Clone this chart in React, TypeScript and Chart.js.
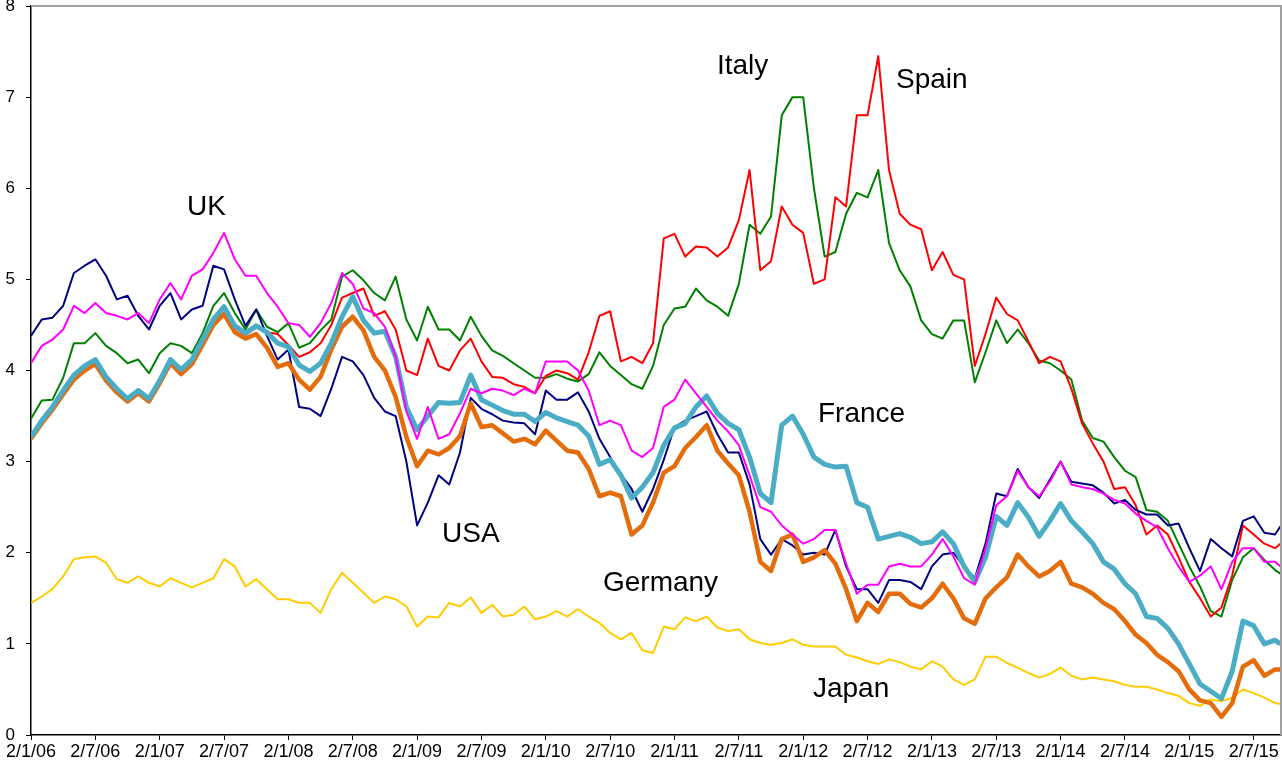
import React, { useEffect, useRef } from "react";
import { Chart, registerables } from "chart.js";

Chart.register(...registerables);

// Sample dates: months since 2 Jan 2006 (monthly samples)
const months = [
  0, 1, 2, 3, 4, 5, 6, 7, 8, 9, 10, 11, 12, 13, 14, 15, 16, 17, 18, 19,
  20, 21, 22, 23, 24, 25, 26, 27, 28, 29, 30, 31, 32, 33, 34, 35, 36, 37, 38, 39,
  40, 41, 42, 43, 44, 45, 46, 47, 48, 49, 50, 51, 52, 53, 54, 55, 56, 57, 58, 59,
  60, 61, 62, 63, 64, 65, 66, 67, 68, 69, 70, 71, 72, 73, 74, 75, 76, 77, 78, 79,
  80, 81, 82, 83, 84, 85, 86, 87, 88, 89, 90, 91, 92, 93, 94, 95, 96, 97, 98, 99,
  100, 101, 102, 103, 104, 105, 106, 107, 108, 109, 110, 111, 112, 113, 114, 115, 116, 116.5,
];

const tickMonths = [0, 6, 12, 18, 24, 30, 36, 42, 48, 54, 60, 66, 72, 78, 84, 90, 96, 102, 108, 114];
const tickLabels = [
  "2/1/06", "2/7/06", "2/1/07", "2/7/07", "2/1/08", "2/7/08", "2/1/09", "2/7/09", "2/1/10", "2/7/10",
  "2/1/11", "2/7/11", "2/1/12", "2/7/12", "2/1/13", "2/7/13", "2/1/14", "2/7/14", "2/1/15", "2/7/15",
];

const usa = [
  4.38, 4.56, 4.58, 4.71, 5.07, 5.15, 5.22, 5.04, 4.78, 4.82,
  4.60, 4.45, 4.71, 4.85, 4.56, 4.67, 4.71, 5.15, 5.11, 4.78,
  4.49, 4.67, 4.38, 4.12, 4.23, 3.60, 3.58, 3.50, 3.80, 4.15,
  4.10, 3.95, 3.70, 3.55, 3.50, 3.00, 2.30, 2.55, 2.85, 2.75,
  3.10, 3.70, 3.58, 3.52, 3.45, 3.43, 3.42, 3.30, 3.78, 3.68,
  3.68, 3.76, 3.55, 3.25, 3.05, 2.86, 2.70, 2.45, 2.70, 3.02,
  3.38, 3.45, 3.50, 3.55, 3.30, 3.10, 3.10, 2.75, 2.15, 1.98,
  2.15, 2.08, 1.98, 2.00, 1.98, 2.25, 1.85, 1.60, 1.60, 1.45,
  1.70, 1.70, 1.68, 1.60, 1.85, 1.98, 2.00, 1.85, 1.72, 2.10,
  2.65, 2.62, 2.92, 2.72, 2.60, 2.80, 3.00, 2.78, 2.76, 2.74,
  2.66, 2.54, 2.58, 2.47, 2.42, 2.42, 2.30, 2.32, 2.05, 1.80,
  2.15, 2.05, 1.96, 2.35, 2.40, 2.22, 2.20, 2.29,
];

const uk = [
  4.08, 4.27, 4.34, 4.45, 4.71, 4.63, 4.74, 4.63, 4.60, 4.56,
  4.63, 4.52, 4.78, 4.96, 4.78, 5.04, 5.11, 5.29, 5.51, 5.22,
  5.04, 5.04, 4.85, 4.70, 4.52, 4.50, 4.37, 4.52, 4.74, 5.07,
  4.95, 4.68, 4.63, 4.48, 4.15, 3.55, 3.25, 3.60, 3.25, 3.30,
  3.53, 3.80, 3.75, 3.80, 3.78, 3.73, 3.80, 3.75, 4.10, 4.10,
  4.10, 4.00, 3.78, 3.40, 3.45, 3.40, 3.12, 3.05, 3.15, 3.60,
  3.68, 3.90, 3.75, 3.60, 3.45, 3.33, 3.18, 2.85, 2.50, 2.45,
  2.30, 2.20, 2.10, 2.15, 2.25, 2.25, 1.88, 1.55, 1.65, 1.65,
  1.85, 1.88, 1.85, 1.85, 1.98, 2.15, 1.96, 1.72, 1.65, 2.05,
  2.52, 2.62, 2.90, 2.72, 2.62, 2.78, 3.00, 2.75, 2.72, 2.70,
  2.65, 2.58, 2.54, 2.43, 2.35, 2.28, 2.05, 1.85, 1.68, 1.75,
  1.85, 1.60, 1.90, 2.05, 2.05, 1.90, 1.90, 1.85,
];

const italy = [
  3.47, 3.67, 3.68, 3.92, 4.30, 4.30, 4.41, 4.27, 4.19, 4.08,
  4.12, 3.97, 4.19, 4.30, 4.27, 4.19, 4.41, 4.71, 4.85, 4.63,
  4.45, 4.67, 4.48, 4.42, 4.52, 4.25, 4.30, 4.44, 4.56, 5.03,
  5.10, 4.99, 4.85, 4.77, 5.03, 4.56, 4.33, 4.70, 4.45, 4.45,
  4.33, 4.59, 4.38, 4.22, 4.16, 4.08, 4.00, 3.92, 3.92, 3.96,
  3.91, 3.88, 3.96, 4.20, 4.05, 3.95, 3.85, 3.80, 4.05, 4.50,
  4.68, 4.70, 4.90, 4.77, 4.70, 4.60, 4.95, 5.60, 5.50, 5.69,
  6.80, 7.00, 7.00, 6.00, 5.25, 5.30, 5.72, 5.95, 5.90, 6.20,
  5.40, 5.10, 4.92, 4.55, 4.40, 4.35, 4.55, 4.55, 3.87, 4.20,
  4.55, 4.30, 4.45, 4.30, 4.11, 4.08, 4.00, 3.90, 3.45, 3.26,
  3.22, 3.05, 2.90, 2.83, 2.47, 2.45, 2.35, 2.10, 1.85, 1.63,
  1.36, 1.30, 1.70, 1.95, 2.05, 1.92, 1.81, 1.77,
];

const spain = [
  3.26, 3.43, 3.58, 3.76, 3.93, 4.03, 4.10, 3.91, 3.78, 3.68,
  3.76, 3.68, 3.87, 4.10, 3.99, 4.10, 4.32, 4.54, 4.68, 4.47,
  4.39, 4.47, 4.42, 4.40, 4.28, 4.15, 4.20, 4.30, 4.50, 4.80,
  4.85, 4.90, 4.60, 4.65, 4.45, 4.00, 3.95, 4.35, 4.05, 4.00,
  4.22, 4.35, 4.10, 3.93, 3.92, 3.85, 3.82, 3.75, 3.94, 4.00,
  3.97, 3.90, 4.20, 4.60, 4.65, 4.10, 4.15, 4.08, 4.30, 5.45,
  5.50, 5.25, 5.36, 5.35, 5.25, 5.35, 5.65, 6.20, 5.10, 5.20,
  5.80, 5.60, 5.51, 4.95, 5.00, 5.90, 5.80, 6.80, 6.80, 7.45,
  6.20, 5.72, 5.60, 5.55, 5.10, 5.30, 5.05, 5.00, 4.05, 4.40,
  4.80, 4.62, 4.55, 4.32, 4.08, 4.15, 4.10, 3.80, 3.42, 3.20,
  3.00, 2.70, 2.72, 2.52, 2.20, 2.30, 2.20, 1.95, 1.68, 1.50,
  1.30, 1.40, 1.75, 2.30, 2.20, 2.10, 2.05, 2.10,
];

const france = [
  3.27, 3.45, 3.60, 3.78, 3.95, 4.05, 4.12, 3.93, 3.80, 3.69,
  3.78, 3.69, 3.89, 4.12, 4.01, 4.12, 4.34, 4.56, 4.70, 4.49,
  4.41, 4.49, 4.42, 4.30, 4.26, 4.06, 3.99, 4.08, 4.30, 4.59,
  4.81, 4.55, 4.41, 4.43, 4.15, 3.60, 3.35, 3.50, 3.65, 3.64,
  3.65, 3.95, 3.68, 3.62, 3.56, 3.52, 3.52, 3.44, 3.54, 3.48,
  3.44, 3.40, 3.28, 2.97, 3.02, 2.85, 2.60, 2.72, 2.88, 3.18,
  3.37, 3.42, 3.60, 3.72, 3.53, 3.42, 3.35, 3.05, 2.65, 2.55,
  3.40, 3.50, 3.30, 3.05, 2.97, 2.94, 2.95, 2.55, 2.50, 2.15,
  2.18, 2.21, 2.17, 2.10, 2.12, 2.23, 2.10, 1.85, 1.68, 1.95,
  2.40, 2.30, 2.55, 2.39, 2.18, 2.35, 2.54, 2.35, 2.23, 2.10,
  1.90, 1.82, 1.66, 1.55, 1.30, 1.28, 1.17, 1.00, 0.78, 0.56,
  0.48, 0.40, 0.70, 1.25, 1.20, 1.00, 1.04, 1.00,
];

const germany = [
  3.25, 3.42, 3.57, 3.74, 3.90, 4.00, 4.07, 3.89, 3.76, 3.66,
  3.75, 3.66, 3.86, 4.08, 3.96, 4.07, 4.28, 4.50, 4.62, 4.42,
  4.35, 4.40, 4.25, 4.04, 4.08, 3.90, 3.79, 3.93, 4.23, 4.48,
  4.59, 4.44, 4.15, 4.00, 3.71, 3.27, 2.95, 3.12, 3.08, 3.15,
  3.28, 3.64, 3.38, 3.40, 3.31, 3.22, 3.25, 3.19, 3.34, 3.23,
  3.12, 3.10, 2.92, 2.62, 2.66, 2.62, 2.20, 2.30, 2.55, 2.88,
  2.95, 3.15, 3.27, 3.40, 3.12, 2.98, 2.85, 2.45, 1.90, 1.80,
  2.15, 2.20, 1.90, 1.95, 2.03, 1.88, 1.60, 1.25, 1.45, 1.35,
  1.55, 1.55, 1.44, 1.40, 1.50, 1.66, 1.50, 1.28, 1.22, 1.50,
  1.62, 1.73, 1.98, 1.85, 1.74, 1.80, 1.90, 1.66, 1.62, 1.55,
  1.45, 1.38, 1.25, 1.10, 1.01, 0.88, 0.80, 0.70, 0.50, 0.38,
  0.35, 0.20, 0.35, 0.75, 0.82, 0.65, 0.72, 0.72,
];

const japan = [
  1.45, 1.52, 1.60, 1.74, 1.93, 1.95, 1.96, 1.89, 1.71, 1.67,
  1.74, 1.67, 1.63, 1.72, 1.67, 1.62, 1.67, 1.72, 1.93, 1.85,
  1.63, 1.71, 1.60, 1.49, 1.49, 1.45, 1.45, 1.34, 1.60, 1.78,
  1.67, 1.56, 1.45, 1.52, 1.49, 1.41, 1.19, 1.30, 1.29, 1.45,
  1.41, 1.51, 1.34, 1.43, 1.30, 1.32, 1.41, 1.27, 1.30, 1.36,
  1.30, 1.38, 1.30, 1.23, 1.12, 1.05, 1.12, 0.93, 0.90, 1.19,
  1.16, 1.29, 1.25, 1.30, 1.18, 1.14, 1.16, 1.05, 1.01, 0.99,
  1.01, 1.05, 0.99, 0.97, 0.97, 0.97, 0.88, 0.85, 0.81, 0.78,
  0.83, 0.80, 0.75, 0.72, 0.81, 0.75, 0.61, 0.55, 0.61, 0.86,
  0.86, 0.79, 0.74, 0.68, 0.63, 0.67, 0.74, 0.65, 0.61, 0.63,
  0.61, 0.59, 0.55, 0.53, 0.53, 0.50, 0.46, 0.43, 0.35, 0.32,
  0.39, 0.37, 0.41, 0.50, 0.46, 0.41, 0.35, 0.34,
];

// Text annotations: name, anchor month, anchor value (left/baseline)
const labelNames = ["UK", "Italy", "Spain", "USA", "France", "Germany", "Japan"];
const labelMonths = [14.55, 63.96, 80.65, 38.32, 73.38, 53.33, 72.91];
const labelValues = [5.71, 7.25, 7.1, 2.12, 3.43, 1.58, 0.42];

const FONT = '"Liberation Sans", Arial, Helvetica, sans-serif';

const toPoints = (vals: number[]) => vals.map((v, i) => ({ x: months[i], y: v }));

const labelPlugin = {
  id: "countryLabels",
  afterDatasetsDraw(chart: any) {
    const { ctx, scales } = chart;
    const xs = scales.x;
    const ys = scales.y;
    ctx.save();
    ctx.font = `28px ${FONT}`;
    ctx.fillStyle = "#000";
    ctx.textAlign = "left";
    ctx.textBaseline = "alphabetic";
    labelNames.forEach((name, i) => {
      ctx.fillText(name, xs.getPixelForValue(labelMonths[i]), ys.getPixelForValue(labelValues[i]));
    });
    ctx.restore();
  },
};

const framePlugin = {
  id: "frame",
  afterDraw(chart: any) {
    const { ctx, chartArea } = chart;
    ctx.save();
    ctx.strokeStyle = "#a0a0a0";
    ctx.lineWidth = 2;
    ctx.beginPath();
    ctx.moveTo(chartArea.left, chartArea.top);
    ctx.lineTo(chartArea.right, chartArea.top);
    ctx.lineTo(chartArea.right, chartArea.bottom);
    ctx.stroke();
    ctx.restore();
  },
};

export default function App() {
  const canvasRef = useRef<HTMLCanvasElement | null>(null);

  useEffect(() => {
    if (!canvasRef.current) return;
    const mk = (label: string, vals: number[], color: string, width: number, order: number) => ({
      label,
      data: toPoints(vals),
      borderColor: color,
      backgroundColor: color,
      borderWidth: width,
      pointRadius: 0,
      tension: 0,
      fill: false,
      order,
      borderJoinStyle: "round" as const,
    });
    const chart = new Chart(canvasRef.current, {
      type: "line",
      data: {
        datasets: [
          mk("UK", uk, "#ff00ff", 2, 0),
          mk("France", france, "#4bacc6", 5, 1),
          mk("Germany", germany, "#e46c0a", 4.5, 2),
          mk("USA", usa, "#000080", 2, 3),
          mk("Spain", spain, "#ff0000", 2, 4),
          mk("Italy", italy, "#008000", 2, 5),
          mk("Japan", japan, "#ffcc00", 2, 6),
        ],
      },
      options: {
        animation: false,
        responsive: false,
        maintainAspectRatio: false,
        layout: { padding: { top: 6, right: 1, left: 0, bottom: 0 } },
        plugins: {
          legend: { display: false },
          tooltip: { enabled: false },
          title: { display: false },
        },
        scales: {
          x: {
            type: "linear",
            min: 0,
            max: 116.55,
            afterBuildTicks: (scale: any) => {
              scale.ticks = tickMonths.map((v) => ({ value: v }));
            },
            afterFit: (scale: any) => {
              scale.height = 32;
              scale.paddingLeft = 0;
              scale.paddingRight = 0;
            },
            ticks: {
              autoSkip: false,
              maxRotation: 0,
              minRotation: 0,
              color: "#000",
              padding: 1,
              font: { family: FONT, size: 18 },
              callback: (_v: any, i: number) => tickLabels[i],
            },
            grid: {
              drawOnChartArea: false,
              drawTicks: true,
              tickLength: 5,
              tickColor: "#000",
              color: "#000",
            },
            border: { display: true, color: "#000", width: 1.5 },
          },
          y: {
            min: 0,
            max: 8,
            afterFit: (scale: any) => {
              scale.width = 31;
              scale.paddingTop = 0;
              scale.paddingBottom = 0;
            },
            ticks: {
              stepSize: 1,
              color: "#000",
              padding: 11,
              font: { family: FONT, size: 17 },
            },
            grid: {
              drawOnChartArea: false,
              drawTicks: true,
              tickLength: 5,
              tickColor: "#000",
              color: "#000",
            },
            border: { display: true, color: "#000", width: 1.5 },
          },
        },
      },
      plugins: [labelPlugin, framePlugin],
    });
    return () => chart.destroy();
  }, []);

  return (
    <div style={{ position: "fixed", left: 0, top: 0, width: 1282, height: 767, background: "#fff" }}>
      <canvas ref={canvasRef} width={1282} height={767} style={{ display: "block" }} />
    </div>
  );
}
